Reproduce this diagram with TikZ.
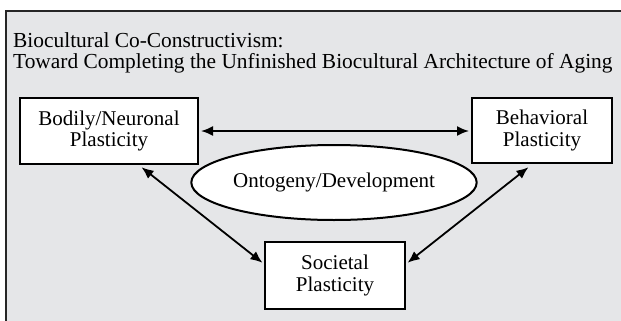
\documentclass[tikz,border=0pt]{standalone}
\usepackage{fontspec}
\setmainfont{Liberation Serif}
\usetikzlibrary{shapes.geometric,arrows.meta}
\definecolor{bggray}{HTML}{E5E6E8}
\tikzset{
  box/.style={draw=black, line width=2pt, fill=white, align=center, font=\fontsize{21}{21.5}\selectfont, inner sep=0pt},
  oval/.style={ellipse, draw=black, line width=2pt, fill=white, font=\fontsize{21}{22}\selectfont, inner sep=0pt},
  link/.style={line width=1.8pt, {Latex[length=12pt,width=10pt]}-{Latex[length=12pt,width=10pt]}, shorten <=2pt, shorten >=2pt},
  titletext/.style={anchor=north west, align=left, font=\fontsize{21.4}{20.5}\selectfont, inner sep=0pt}
}
\begin{document}
\begin{tikzpicture}[x=1pt,y=-1pt]
\useasboundingbox (0,0) rectangle (621,321);
\clip (0,0) rectangle (621,321);
\fill[bggray] (6,11) rectangle (630,330);
\draw[line width=2pt, black!85] (6,340) -- (6,11) -- (630,11);
\node[titletext] (title) at (13,32.5) {Biocultural Co-Constructivism:\\Toward Completing the Unfinished Biocultural Architecture of Aging};
\node[box, minimum width=178pt, minimum height=66pt] (body) at (109,131) {Bodily/Neuronal\\Plasticity};
\node[box, minimum width=140pt, minimum height=65pt] (behav) at (542,130.5) {Behavioral\\Plasticity};
\node[box, minimum width=140pt, minimum height=67pt] (soc) at (335,275.5) {Societal\\Plasticity};
\node[oval, minimum width=242pt, minimum height=75pt] (onto) at (334,182.5) {Ontogeny/Development};
\draw[link] (body.east |- 0,131) -- (behav.west |- 0,131);
\draw[link] (140,166) -- (soc.west |- 0,264);
\draw[link] (530,166) -- (soc.east |- 0,264);
\end{tikzpicture}
\end{document}
